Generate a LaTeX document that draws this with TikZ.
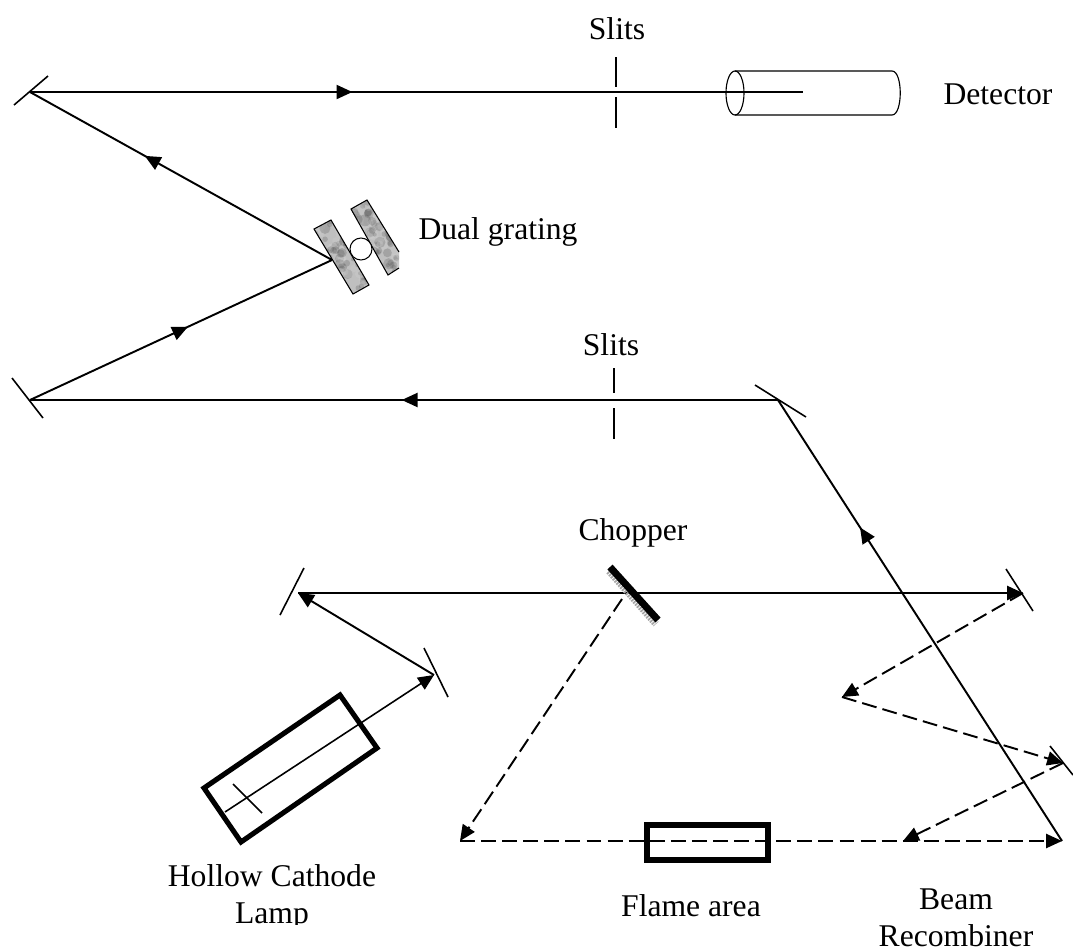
\documentclass[tikz,border=0pt]{standalone}
\usepackage{fontspec}
\setmainfont{Liberation Serif}
\usetikzlibrary{arrows.meta,decorations.markings}
\tikzset{
  beam/.style={line width=1.1pt,-{Triangle[length=9pt,width=8pt]}},
  ray/.style={line width=1.1pt},
  dashray/.style={line width=1.1pt,dash pattern=on 8.5pt off 3.5pt,-{Triangle[length=9pt,width=8pt]}},
  midtip/.style={postaction={decorate,decoration={markings,mark=at position #1 with {\arrow{Triangle[length=9pt,width=8pt]}}}}},
  mirror/.style={line width=0.9pt},
  heavybox/.style={line width=2.9pt,miter limit=10},
  label/.style={font=\fontsize{18}{20}\selectfont,inner sep=0pt,align=center},
  gratingedge/.style={draw=black,line width=0.6pt},
  gratingbar/.style={fill=gray!50,path picture={
    \foreach \k in {1,...,320} {
      \pgfmathsetmacro\px{312+rnd*90}
      \pgfmathsetmacro\py{198+rnd*98}
      \pgfmathsetmacro\pr{2+rnd*4}
      \pgfmathsetmacro\ps{rnd>0.5?15:75}
      \fill[black!\ps,opacity=0.22] (\px,\py) circle (\pr);
    }}},
}
\begin{document}
\begin{tikzpicture}[x=0.02cm,y=-0.02cm]
\useasboundingbox (0,0) rectangle (1073,948);
\pgfmathsetseed{11}
% Turning points of the light path
\foreach \name/\x/\y in {mtop/30/92,mlow/30/400,grate/332/260,mhigh/778/400,mleft/298/593,mright/1023/593,mlamp/434/675,lampend/225/812,detend/803/92,fold/842/697,mcomb/1063/763,flamein/460/841,recomb/1062/841,recombin/903/841,chopout/622/599} {\coordinate (\name) at (\x,\y);}
% Mirrors
\foreach \xa/\ya/\xb/\yb in {14/105/48/76,12/378/43/418,755/385/806/417,304/568/280/615,424/648/448/697,1006/569/1033/611,1050/746/1073/775} {\draw[mirror] (\xa,\ya) -- (\xb,\yb);}
% Upper path
\draw[ray,midtip=0.417] (mtop) -- (detend);
\draw[ray,midtip=0.62] (grate) -- (mtop);
\draw[ray,midtip=0.523] (mlow) -- (grate);
\draw[ray,midtip=0.503] (mhigh) -- (mlow);
\draw[ray,midtip=0.711] (recomb) -- (mhigh);
% Slits
\foreach \x/\ya/\yb/\yc/\yd in {616/57/87/97/128,614/368/393/408/439} {
  \draw[mirror] (\x,\ya) -- (\x,\yb);
  \draw[mirror] (\x,\yc) -- (\x,\yd);
}
% Detector
\draw[line width=0.65pt] (735,93) ellipse (9 and 22);
\draw[line width=0.65pt] (735,71) -- (892,71) .. controls (903,71) and (903,115) .. (892,115) -- (735,115);
% Dual grating
\path[gratingbar,gratingedge] (314,229) -- (331,220) -- (369,285) -- (353,294) -- cycle;
\path[gratingbar] (351,209) -- (367,200) -- (399,252) -- (399,268) -- (388,275) -- cycle;
\draw[gratingedge] (399,252) -- (367,200) -- (351,209) -- (388,275) -- (399,268);
\draw[line width=0.6pt,fill=white] (361,249) circle (11);
% Lower path
\draw[beam] (mleft) -- (mright);
\draw[beam] (mlamp) -- (mleft);
\draw[line width=0.9pt,-{Triangle[length=9pt,width=8pt]}] (lampend) -- (mlamp);
\draw[mirror] (233,784) -- (262,813);
\draw[heavybox] (340,695) -- (377,748) -- (241,842) -- (204,788) -- cycle;
% Chopper
\draw[line width=4pt,gray!70,dash pattern=on 1pt off 0.6pt] (609,571) -- (656,624);
\draw[line width=4pt] (610,567) -- (658,620);
% Dashed path
\draw[dashray] (chopout) -- (flamein);
\draw[dashray] (flamein) -- (recomb);
\draw[dashray] (mright) -- (fold);
\draw[dashray] (fold) -- (mcomb);
\draw[dashray] (mcomb) -- (recombin);
\draw[heavybox] (647,825) rectangle (768,860);
% Labels
\node[label,anchor=base] (slitsa) at (617,39) {Slits};
\node[label,anchor=base] (slitsb) at (611,355) {Slits};
\node[label] (detector) at (998,94) {Detector};
\node[label,anchor=base] (dualgrating) at (498,239) {Dual grating};
\node[label] (chopper) at (633,533) {Chopper};
\begin{scope}
\clip (0,0) rectangle (1073,924);
\node[label] (lamp) at (272,897) {Hollow Cathode\\[1pt]Lamp};
\end{scope}
\node[label,anchor=base] (flame) at (691,916) {Flame area};
\node[label] (recombiner) at (956,918) {Beam\\[1pt]Recombiner};
\end{tikzpicture}
\end{document}
